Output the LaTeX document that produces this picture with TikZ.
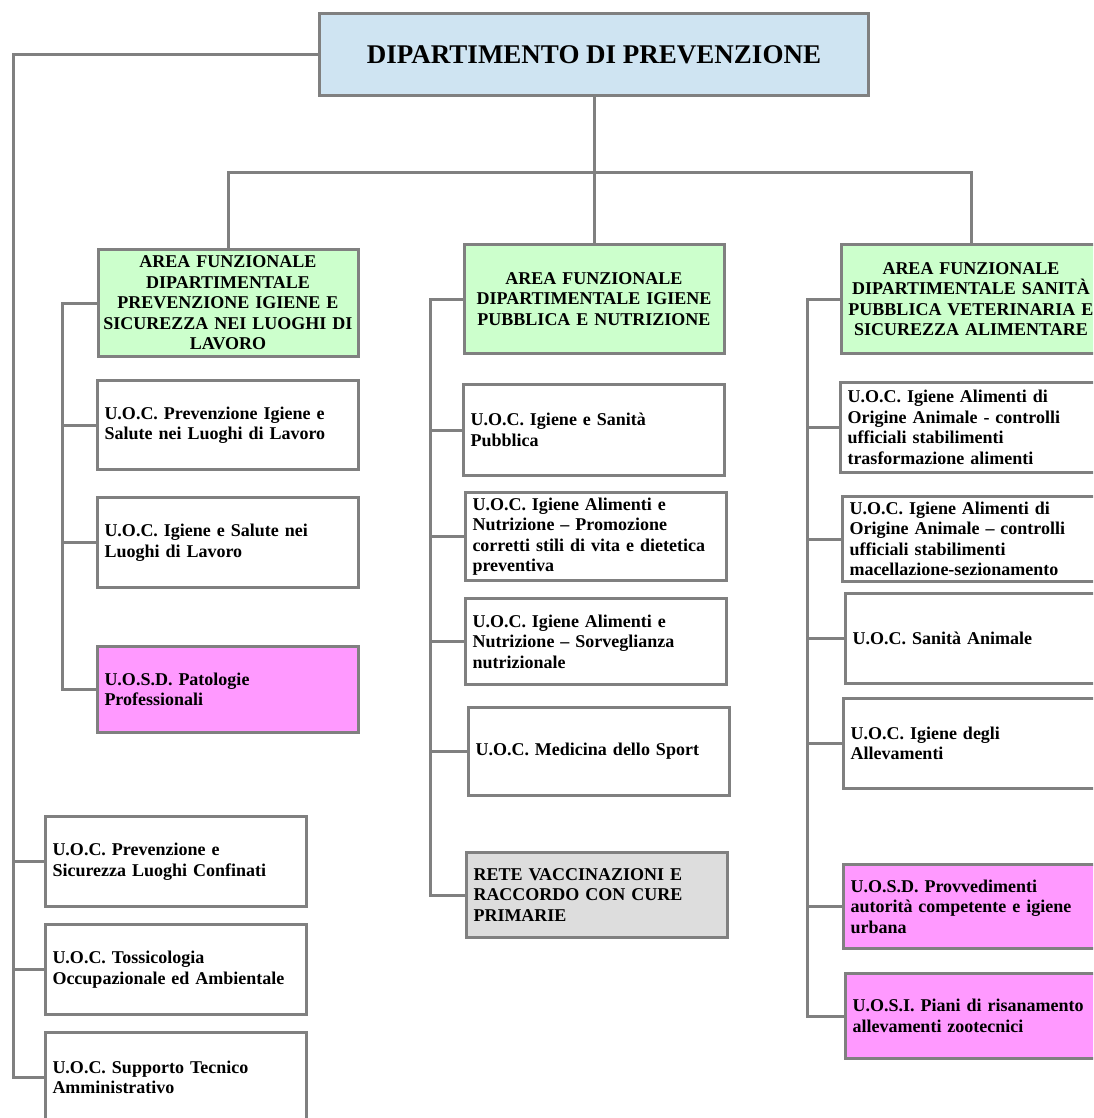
\documentclass[tikz,border=0pt]{standalone}
\usepackage{fontspec}
\setmainfont{Liberation Serif}
\usetikzlibrary{positioning}

\definecolor{deptblue}{RGB}{207,228,242}
\definecolor{areagreen}{RGB}{204,255,204}
\definecolor{uospink}{RGB}{255,153,255}
\definecolor{retegray}{RGB}{221,221,221}
\definecolor{linegray}{RGB}{128,128,128}

\begin{document}
\begin{tikzpicture}[
		x=1pt, y=1pt,
		font=\bfseries\fontsize{18}{20.5}\selectfont,
		boxit/.style={
				draw=linegray,
				fill=#1,
				line width=3pt
			},
		boxit/.default=white,
		dept/.style={boxit=deptblue, minimum width=549pt, minimum height=82pt, font=\bfseries\fontsize{27}{30}\selectfont},
		area/.style={boxit=areagreen, text width=252pt, align=center, inner xsep=4pt, minimum height=#1},
		area/.default=109pt,
		unit/.style={boxit, text width=247pt, align=left, inner xsep=7pt, minimum height=#1},
		unit/.default=89pt,
		wire/.style={draw=linegray, line width=3pt}
	]

	\useasboundingbox (0,0) rectangle (1093,-1118);
	\clip (0,0) rectangle (1093,-1118);

	\node[dept] (dip) at (594,-54.5) {DIPARTIMENTO DI PREVENZIONE};

	% aree funzionali
	\node[area, below=146pt of dip] (afm) {AREA FUNZIONALE\\DIPARTIMENTALE IGIENE\\PUBBLICA E NUTRIZIONE};
	\node[area=107pt, left=103pt of afm, yshift=-4pt] (afl) {AREA FUNZIONALE\\DIPARTIMENTALE\\PREVENZIONE IGIENE E\\SICUREZZA NEI LUOGHI DI\\LAVORO};
	\node[area, right=114pt of afm] (afr) {AREA FUNZIONALE\\DIPARTIMENTALE SANITÀ\\PUBBLICA VETERINARIA E\\SICUREZZA ALIMENTARE};

	% luoghi di lavoro
	\node[unit, below=21pt of afl] (l1) {U.O.C. Prevenzione Igiene e\\Salute nei Luoghi di Lavoro};
	\node[unit=90pt, below=25pt of l1] (l2) {U.O.C. Igiene e Salute nei\\Luoghi di Lavoro};
	\node[unit=86pt, fill=uospink, below=56pt of l2] (l3) {U.O.S.D. Patologie\\Professionali};

	% igiene pubblica
	\node[unit=91pt, below=28pt of afm] (m1) {U.O.C. Igiene e Sanità\\Pubblica};
	\node[unit=88pt, below=14pt of m1, xshift=2pt] (m2) {U.O.C. Igiene Alimenti e\\Nutrizione – Promozione\\corretti stili di vita e dietetica\\preventiva};
	\node[unit=86pt, below=15pt of m2] (m3) {U.O.C. Igiene Alimenti e\\Nutrizione – Sorveglianza\\nutrizionale};
	\node[unit=88pt, below=20pt of m3, xshift=3pt] (m4) {U.O.C. Medicina dello Sport};
	\node[unit=85pt, fill=retegray, below=54pt of m4, xshift=-2pt] (m5) {RETE VACCINAZIONI E\\RACCORDO CON CURE\\PRIMARIE};

	% veterinaria
	\node[unit=90pt, below=26pt of afr] (r1) {U.O.C. Igiene Alimenti di\\Origine Animale - controlli\\ufficiali stabilimenti\\trasformazione alimenti};
	\node[unit=85pt, below=21pt of r1, xshift=2pt] (r2) {U.O.C. Igiene Alimenti di\\Origine Animale – controlli\\ufficiali stabilimenti\\macellazione-sezionamento};
	\node[unit=90pt, below=9pt of r2, xshift=3pt] (r3) {U.O.C. Sanità Animale};
	\node[unit=90pt, below=12pt of r3, xshift=-2pt] (r4) {U.O.C. Igiene degli\\Allevamenti};
	\node[unit=84pt, fill=uospink, below=73pt of r4] (r5) {U.O.S.D. Provvedimenti\\autorità competente e igiene\\urbana};
	\node[unit=85pt, fill=uospink, below=22pt of r5, xshift=2pt] (r6) {U.O.S.I. Piani di risanamento\\allevamenti zootecnici};

	% staff del dipartimento
	\node[unit=90pt, below=81pt of l3, xshift=-52pt] (b1) {U.O.C. Prevenzione e\\Sicurezza Luoghi Confinati};
	\node[unit=90pt, below=15pt of b1] (b2) {U.O.C. Tossicologia\\Occupazionale ed Ambientale};
	\node[unit=90pt, below=15pt of b2] (b3) {U.O.C. Supporto Tecnico\\Amministrativo};

	% collegamenti
	\draw[wire] (dip.south) -- ++(0,-76) coordinate (bus);
	\draw[wire] (afl.north) |- (bus) -| (afr.north);
	\draw[wire] (bus) -- (bus |- afm.north);

	\draw[wire] (dip.west) -- ++(-305,0) coordinate (trunk) |- (b3.west);
	\foreach \u in {b1,b2} \draw[wire] (trunk) |- (\u.west);

	\draw[wire] (afl.west) -- ++(-34,0) coordinate (lbus) |- (l3.west);
	\foreach \u in {l1,l2} \draw[wire] (lbus) |- (\u.west);

	\draw[wire] (afm.west) -- ++(-32,0) coordinate (mbus) |- (m5.west);
	\foreach \u in {m1,m2,m3,m4} \draw[wire] (mbus) |- (\u.west);

	\draw[wire] (afr.west) -- ++(-32,0) coordinate (rbus) |- (r6.west);
	\foreach \u in {r1,r2,r3,r4,r5} \draw[wire] (rbus) |- (\u.west);
\end{tikzpicture}
\end{document}
